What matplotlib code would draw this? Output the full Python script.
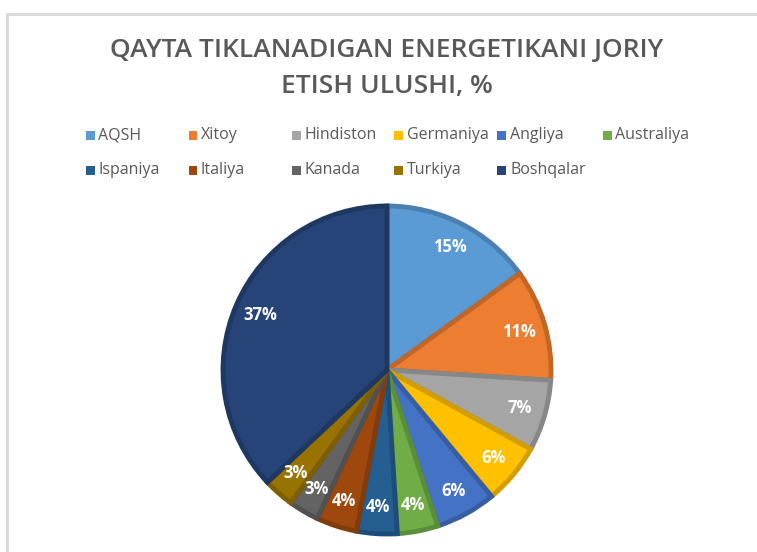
import matplotlib.pyplot as plt
from matplotlib.patches import Rectangle
import matplotlib.colors as mcolors
import numpy as np

countries = ["AQSH", "Xitoy", "Hindiston", "Germaniya", "Angliya", "Australiya",
             "Ispaniya", "Italiya", "Kanada", "Turkiya", "Boshqalar"]
shares = [15, 11, 7, 6, 6, 4, 4, 4, 3, 3, 37]
colors = ["#5B9BD5", "#ED7D31", "#A5A5A5", "#FFC000", "#4472C4", "#70AD47",
          "#255E91", "#9E480E", "#636363", "#997300", "#264478"]

plt.rcParams["font.family"] = ["Open Sans", "DejaVu Sans"]

W, H = 757, 552
fig = plt.figure(figsize=(W / 100, H / 100), dpi=100)

# chart frame (cropped on the right and bottom)
fig.patches.append(Rectangle((7 / W, -0.05), 1.1, (H - 14) / H + 0.05,
                             transform=fig.transFigure, fill=False,
                             edgecolor="#D9D9D9", linewidth=2))

# title
fig.text(387 / W, 1 - 50 / H, "QAYTA TIKLANADIGAN ENERGETIKANI JORIY",
         ha="center", va="center", fontsize=19, fontweight="semibold",
         color="#595959")
fig.text(387 / W, 1 - 87 / H, "ETISH ULUSHI, %",
         ha="center", va="center", fontsize=19, fontweight="semibold",
         color="#595959")

# legend, laid out like the Excel one: 6 per row, even spacing
col_x = [90, 193, 296, 399, 502, 607]
row_y = [135, 170]
for i, (name, c) in enumerate(zip(countries, colors)):
    x = col_x[i % 6]
    y = row_y[i // 6]
    fig.patches.append(Rectangle(((x - 4.5) / W, 1 - (y + 4.5) / H), 9 / W, 9 / H,
                                 transform=fig.transFigure, facecolor=c,
                                 edgecolor="none"))
    fig.text((x + 8) / W, 1 - y / H, name, ha="left", va="center",
             fontsize=11.5, color="#595959")

# pie
cx, cy, r = 387, 370, 164
lim = 1.06
side = 2 * r * lim
ax = fig.add_axes([(cx - side / 2) / W, (H - cy - side / 2) / H, side / W, side / H])

edge_cols = [tuple(np.array(mcolors.to_rgb(c)) * 0.82) for c in colors]
wedges, texts, autotexts = ax.pie(
    shares, colors=colors, startangle=90, counterclock=False,
    autopct="%d%%", pctdistance=0.84,
    wedgeprops=dict(linewidth=3.5),
    textprops=dict(color="white", fontsize=12, fontweight="bold"))
for w, ec in zip(wedges, edge_cols):
    w.set_edgecolor(ec)
ax.set_xlim(-lim, lim)
ax.set_ylim(-lim, lim)
ax.set_aspect("equal")
ax.axis("off")

fig.savefig("out.png", dpi=100)
